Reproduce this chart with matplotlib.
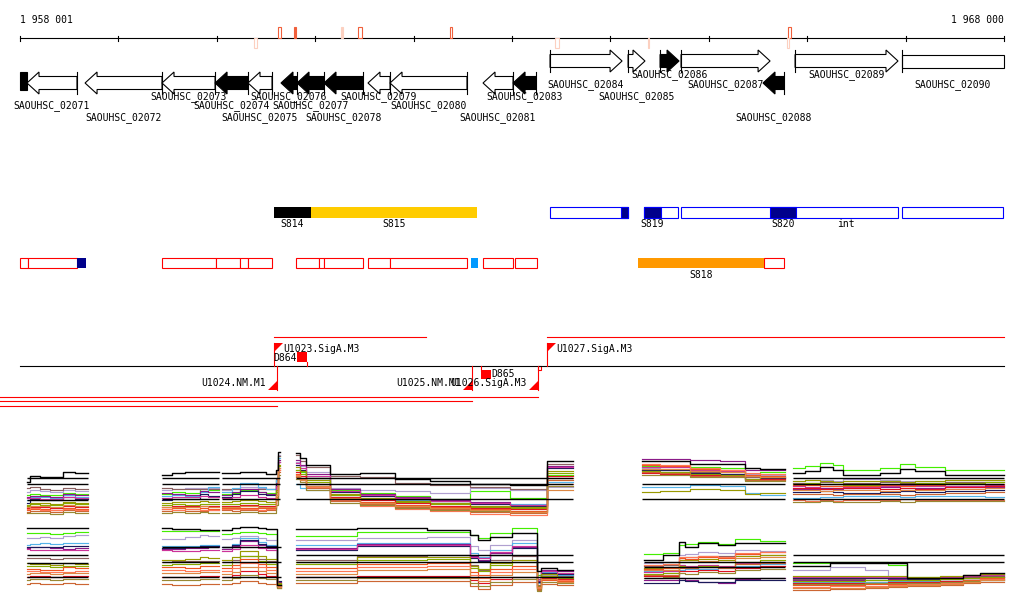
import numpy as np
import matplotlib.pyplot as plt
from matplotlib.patches import Rectangle

# genome window shown on the ruler
view_start, view_end = 1958001, 1968000

# ---- annotated genes (row 1) ----
gene_names = ['SAOUHSC_02071', 'SAOUHSC_02072', 'SAOUHSC_02073', 'SAOUHSC_02074', 'SAOUHSC_02075',
              'SAOUHSC_02076', 'SAOUHSC_02077', 'SAOUHSC_02078', 'SAOUHSC_02079', 'SAOUHSC_02080',
              'SAOUHSC_02081', 'SAOUHSC_02083', 'SAOUHSC_02084', 'SAOUHSC_02085', 'SAOUHSC_02086',
              'SAOUHSC_02087', 'SAOUHSC_02088', 'SAOUHSC_02089', 'SAOUHSC_02090']
gene_start = [1958072, 1958662, 1959444, 1959983, 1960318, 1960653, 1960816, 1961090, 1961537, 1961761,
              1962706, 1963011, 1963387, 1964180, 1964505, 1964718, 1965551, 1965877, 1966964]
gene_end = [1958580, 1959444, 1959983, 1960318, 1960562, 1960816, 1961090, 1961486, 1961761, 1962543,
            1963011, 1963245, 1964119, 1964352, 1964698, 1965623, 1965765, 1966923, 1968000]
gene_strand = [-1, -1, -1, -1, -1, -1, -1, -1, -1, -1, -1, -1, 1, 1, 1, 1, -1, 1, 1]
gene_black = [0, 0, 0, 1, 0, 1, 1, 1, 0, 0, 0, 1, 0, 0, 1, 0, 1, 0, 0]
gene_label_row = [106, 118, 97, 106, 118, 97, 106, 118, 97, 106, 118, 97, 85, 97, 75, 85, 118, 75, 85]
gene_clipped = [0] * 18 + [1]
partial_black = (1958001, 1958072)   # gene cut by the left border

# small marks around the ruler
mark_start = [1960623, 1960785, 1961263, 1961436, 1962371, 1965805,
              1960379, 1963438, 1964383, 1965795]
mark_end = [1960653, 1960806, 1961283, 1961476, 1962391, 1965836,
            1960409, 1963478, 1964393, 1965815]
mark_above = [1, 1, 1, 1, 1, 1, 0, 0, 0, 0]
mark_style = ['red', 'redfill', 'pinkfill', 'red', 'red', 'red', 'pink', 'pink', 'pinkfill', 'pink']

# ---- segment track (S814 ... int) ----
seg_top_start = [1960582, 1960958]
seg_top_end = [1960958, 1962645]
seg_top_color = ['#000000', '#ffcc00']
seg_top_label = ['S814', 'S815']

blue_box_start = [1963387, 1964342, 1964718, 1966964]
blue_box_end = [1964180, 1964688, 1966923, 1967990]
navy_start = [1964108, 1964342, 1965623]
navy_end = [1964180, 1964515, 1965887]
blue_labels = ['S819', 'S820', 'int']
blue_label_pos = [1964428, 1965755, 1966395]

red_box_start = [1958001, 1958082, 1959444, 1959993, 1960236, 1960318, 1960806, 1961039, 1961090,
                 1961537, 1961761, 1962706, 1963032, 1965561]
red_box_end = [1958082, 1958580, 1959993, 1960236, 1960318, 1960562, 1961039, 1961090, 1961486,
               1961761, 1962543, 1963011, 1963255, 1965765]
fill_start = [1958580, 1962584, 1964281]
fill_end = [1958672, 1962655, 1965561]
fill_color = ['#00008b', '#0099ff', '#ff9900']
orange_label = ('S818', 1964921)

# ---- transcription units / promoters ----
fwd_names = ['U1023.SigA.M3', 'U1027.SigA.M3']
fwd_pos = [1960582, 1963356]
rev_names = ['U1024.NM.M1', 'U1025.NM.M1', 'U1026.SigA.M3']
rev_pos = [1960613, 1962594, 1963265]
rev_label_end = [1960500, 1962482, 1963153]
tu_fwd_start = [1960582, 1963356]
tu_fwd_end = [1962127, 1968000]
tu_rev_end = [1963265, 1962594, 1960613]
term_names = ['D864', 'D865']
term_start = [1960816, 1962686]
term_end = [1960917, 1962787]

# ---- expression profiles (pixel rows) ----
trace_colors = ['#000000', '#44ee00', '#b0a0d0', '#8b6060', '#56b4e9', '#8b1a89', '#1a1a5a', '#cc3399',
                '#999900', '#88aa00', '#dd1122', '#ee5522', '#cc6633', '#ff7755', '#998833', '#dd8844']

t1_bp = [1958072, 1958103, 1958204, 1958306, 1958438, 1958560, 1958692]
t1_refs = [478, 484, 500]
t1_series = [[482, 476, 477, 477, 472, 473], [495, 494, 495, 495, 493, 494], [492, 490, 491, 492, 490, 491],
             [488, 487, 489, 490, 488, 489], [500, 497, 497, 498, 495, 497], [497, 496, 496, 497, 494, 495],
             [503, 499, 500, 500, 497, 499], [498, 498, 499, 499, 497, 498], [506, 503, 503, 504, 502, 503],
             [505, 504, 505, 505, 503, 504], [508, 507, 507, 508, 506, 507], [510, 509, 509, 510, 508, 509],
             [512, 511, 511, 512, 510, 511], [509, 508, 510, 510, 509, 510], [513, 513, 513, 514, 512, 513],
             [507, 506, 506, 507, 505, 506]]

t2_bp = [1959444, 1959546, 1959678, 1959830, 1959911, 1960023]
t2_refs = [478, 484, 499]
t2_series = [[475, 473, 472, 472, 472], [494, 492, 493, 489, 490], [490, 489, 488, 488, 488],
             [488, 489, 489, 489, 489], [496, 495, 496, 492, 487], [493, 494, 495, 491, 492],
             [500, 499, 499, 494, 496], [498, 497, 497, 496, 497], [503, 502, 502, 501, 502],
             [505, 504, 505, 504, 504], [507, 506, 506, 506, 506], [509, 508, 509, 508, 509],
             [511, 510, 511, 511, 510], [509, 510, 509, 510, 510], [513, 512, 513, 512, 513],
             [507, 507, 507, 506, 507]]

t3_bp = [1960054, 1960155, 1960236, 1960419, 1960501, 1960603, 1960623, 1960643]
t3_refs = [478, 484, 499]
t3_series = [[473, 473, 472, 472, 474, 470, 452], [494, 493, 490, 492, 493, 480, 456],
             [490, 489, 487, 488, 489, 478, 455], [489, 489, 489, 489, 489, 479, 456],
             [492, 488, 483, 487, 489, 480, 458], [495, 492, 489, 492, 494, 483, 460],
             [497, 494, 491, 494, 495, 484, 462], [498, 497, 495, 497, 498, 486, 462],
             [502, 501, 500, 501, 502, 490, 465], [504, 504, 503, 504, 504, 492, 466],
             [506, 506, 505, 506, 506, 495, 468], [508, 508, 508, 508, 508, 497, 470],
             [510, 511, 510, 511, 510, 500, 472], [509, 509, 509, 510, 509, 498, 470],
             [513, 513, 512, 513, 513, 505, 475], [507, 507, 506, 507, 507, 495, 468]]

t4_bp = [1960806, 1960846, 1960907, 1961151, 1961456, 1961812, 1962167, 1962574, 1962980, 1963356, 1963620]
t4_refs = [478, 484, 499]
t4_series = [[453, 458, 465, 474, 473, 479, 481, 484, 485, 461],
             [470, 472, 478, 490, 493, 496, 499, 491, 498, 475],
             [462, 466, 472, 488, 490, 491, 493, 488, 490, 487],
             [455, 461, 467, 476, 477, 483, 485, 487, 489, 464],
             [484, 488, 490, 497, 499, 500, 501, 503, 504, 482],
             [460, 465, 474, 489, 494, 497, 500, 502, 505, 466],
             [465, 470, 478, 492, 496, 499, 501, 504, 506, 468],
             [463, 468, 476, 491, 495, 498, 501, 503, 505, 467],
             [467, 471, 480, 494, 498, 501, 503, 506, 507, 471],
             [470, 474, 482, 495, 499, 502, 504, 507, 508, 473],
             [472, 476, 484, 497, 500, 503, 506, 508, 509, 476],
             [474, 478, 486, 499, 502, 505, 507, 509, 511, 478],
             [477, 480, 488, 501, 504, 507, 509, 512, 513, 480],
             [475, 479, 487, 500, 506, 509, 511, 514, 515, 484],
             [479, 482, 490, 503, 505, 508, 510, 511, 512, 486],
             [476, 480, 486, 498, 503, 506, 508, 510, 512, 490]]

t5_bp = [1964322, 1964505, 1964809, 1965114, 1965368, 1965521, 1965775]
t5_refs = [484, 499]
t5_series = [[461, 461, 464, 464, 468, 469], [466, 466, 467, 468, 474, 472], [468, 467, 470, 470, 474, 475],
             [470, 470, 472, 472, 477, 478], [487, 487, 485, 486, 493, 495], [459, 459, 460, 461, 470, 470],
             [470, 470, 473, 474, 479, 478], [467, 467, 470, 471, 476, 477], [492, 491, 489, 490, 494, 493],
             [471, 472, 474, 475, 479, 477], [473, 474, 475, 476, 480, 479], [465, 466, 469, 470, 475, 476],
             [472, 473, 476, 476, 480, 480], [464, 465, 468, 470, 473, 474], [475, 475, 477, 477, 481, 481],
             [469, 469, 471, 472, 476, 477]]

t6_bp = [1965856, 1965978, 1966131, 1966263, 1966364, 1966740, 1966944, 1967096, 1967401, 1967807, 1968000]
t6_refs = [478, 484, 499]
t6_series = [[473, 471, 467, 470, 475, 473, 469, 471, 475, 475],
             [468, 466, 463, 465, 470, 468, 464, 467, 470, 470],
             [481, 480, 480, 481, 479, 480, 481, 481, 480, 480],
             [483, 483, 482, 482, 483, 482, 483, 483, 482, 482],
             [498, 498, 497, 497, 496, 496, 497, 496, 496, 497],
             [489, 489, 488, 489, 488, 487, 488, 488, 487, 487],
             [492, 492, 491, 492, 493, 492, 491, 492, 491, 490],
             [486, 487, 486, 486, 487, 486, 485, 486, 486, 485],
             [481, 480, 481, 482, 481, 481, 482, 481, 480, 480],
             [484, 483, 484, 484, 485, 484, 484, 483, 483, 482],
             [488, 488, 489, 488, 488, 489, 488, 489, 487, 486],
             [485, 485, 486, 486, 486, 485, 486, 485, 484, 484],
             [494, 494, 494, 495, 494, 494, 495, 494, 493, 492],
             [500, 501, 500, 501, 500, 500, 499, 500, 500, 500],
             [502, 502, 501, 502, 502, 501, 502, 501, 501, 501],
             [490, 490, 491, 490, 490, 491, 490, 490, 489, 488]]

b1_bp = t1_bp
b1_refs = [555, 563, 577]
b1_series = [[528, 528, 528, 528, 528, 528], [533, 533, 533, 534, 533, 532], [538, 538, 537, 538, 536, 535],
             [558, 558, 558, 559, 558, 558], [545, 544, 543, 544, 543, 543], [548, 547, 547, 548, 549, 548],
             [547, 547, 547, 547, 546, 546], [549, 550, 550, 550, 550, 550], [563, 564, 564, 565, 563, 564],
             [566, 566, 566, 567, 566, 566], [577, 576, 576, 577, 576, 576], [569, 569, 570, 570, 567, 568],
             [584, 583, 584, 584, 583, 584], [571, 571, 572, 572, 572, 571], [580, 579, 579, 580, 579, 579],
             [574, 573, 573, 574, 573, 573]]

b2_bp = t2_bp
b2_refs = [547, 562, 577]
b2_series = [[528, 529, 529, 530, 530], [531, 531, 531, 531, 531], [539, 539, 537, 535, 536],
             [562, 561, 561, 561, 561], [546, 546, 546, 545, 545], [549, 549, 548, 548, 547],
             [548, 548, 547, 546, 546], [550, 551, 551, 550, 550], [560, 560, 559, 557, 558],
             [565, 564, 564, 563, 563], [577, 577, 577, 576, 576], [567, 567, 568, 566, 566],
             [584, 585, 585, 584, 584], [570, 570, 571, 570, 570], [580, 580, 580, 579, 579],
             [573, 573, 573, 572, 572]]

b3_bp = [1960054, 1960155, 1960236, 1960419, 1960501, 1960613, 1960653]
b3_refs = [547, 562, 577]
b3_series = [[530, 528, 527, 528, 529, 585], [534, 533, 532, 533, 534, 586], [539, 538, 536, 538, 540, 586],
             [562, 560, 556, 559, 561, 585], [547, 544, 538, 542, 545, 583], [549, 546, 541, 545, 548, 582],
             [547, 545, 540, 544, 546, 581], [551, 549, 545, 548, 550, 584], [560, 557, 551, 556, 559, 583],
             [565, 562, 556, 561, 564, 584], [577, 575, 571, 574, 576, 586], [568, 565, 559, 564, 567, 587],
             [584, 583, 581, 583, 584, 588], [571, 568, 563, 567, 570, 587], [580, 578, 575, 578, 579, 588],
             [574, 572, 567, 571, 573, 586]]

b4_bp = [1960806, 1961425, 1962137, 1962574, 1962655, 1962777, 1963001, 1963255, 1963295, 1963458, 1963620]
b4_refs = [555, 562, 577]
b4_series = [[529, 528, 530, 535, 540, 537, 533, 571, 568, 570],
             [536, 532, 532, 535, 538, 533, 528, 575, 572, 573],
             [540, 538, 537, 546, 550, 545, 540, 580, 575, 574],
             [560, 556, 555, 565, 570, 560, 556, 585, 574, 576],
             [545, 543, 543, 553, 557, 550, 543, 583, 572, 575],
             [548, 544, 544, 556, 560, 553, 547, 581, 570, 571],
             [550, 546, 546, 558, 561, 555, 548, 582, 573, 574],
             [549, 545, 545, 557, 558, 552, 546, 579, 571, 573],
             [562, 557, 557, 566, 569, 563, 560, 586, 574, 577],
             [564, 560, 559, 568, 571, 565, 562, 587, 576, 578],
             [577, 576, 576, 580, 583, 579, 577, 588, 578, 579],
             [568, 564, 563, 572, 575, 569, 566, 589, 580, 581],
             [583, 581, 581, 586, 589, 585, 582, 590, 584, 585],
             [571, 567, 566, 575, 578, 572, 569, 587, 577, 580],
             [580, 578, 578, 583, 586, 582, 579, 591, 582, 583],
             [574, 570, 569, 578, 581, 575, 572, 588, 579, 582]]

b5_bp = [1964342, 1964535, 1964698, 1964759, 1964891, 1965094, 1965267, 1965521, 1965775]
b5_refs = [562, 567, 578]
b5_series = [[560, 555, 542, 547, 543, 545, 543, 543], [554, 553, 545, 544, 542, 544, 539, 541],
             [563, 562, 555, 554, 552, 553, 550, 551], [566, 565, 558, 557, 556, 556, 554, 555],
             [571, 571, 570, 569, 569, 568, 566, 564], [580, 580, 578, 580, 582, 583, 579, 578],
             [583, 583, 580, 581, 582, 582, 580, 580], [572, 571, 565, 566, 565, 566, 563, 562],
             [568, 568, 560, 560, 559, 560, 556, 555], [574, 573, 566, 567, 566, 567, 562, 560],
             [576, 576, 571, 571, 570, 571, 568, 566], [569, 568, 558, 559, 557, 558, 554, 552],
             [575, 575, 568, 568, 567, 568, 564, 563], [565, 564, 557, 557, 556, 557, 553, 552],
             [578, 577, 573, 574, 572, 573, 570, 569], [570, 570, 562, 562, 561, 562, 558, 557]]

b6_bp = [1965856, 1966232, 1966588, 1966822, 1967015, 1967350, 1967584, 1967757, 1968000]
b6_refs = [555, 562]
b6_series = [[566, 563, 563, 563, 578, 578, 575, 573], [563, 562, 562, 565, 577, 577, 576, 574],
             [570, 567, 570, 577, 578, 578, 577, 575], [579, 579, 578, 578, 579, 578, 577, 576],
             [582, 582, 582, 581, 581, 581, 580, 580], [580, 580, 580, 579, 580, 579, 578, 577],
             [578, 578, 578, 578, 579, 579, 578, 577], [577, 577, 577, 577, 578, 577, 576, 575],
             [576, 576, 576, 576, 577, 576, 575, 574], [581, 581, 580, 580, 580, 579, 578, 577],
             [583, 583, 583, 582, 582, 581, 580, 579], [585, 585, 584, 584, 583, 582, 580, 578],
             [590, 589, 588, 587, 586, 585, 583, 582], [587, 586, 586, 585, 584, 583, 581, 579],
             [584, 584, 583, 583, 583, 582, 581, 580], [588, 588, 587, 586, 585, 584, 582, 580]]

FONT = dict(family='DejaVu Sans Mono', fontsize=7)
RED = '#ff0000'


def draw_gene(ax, start, end, strand, black, yc, clipped, bp_px):
    hl = 12 * bp_px
    bh, hh = 6.5, 11
    face = 'black' if black else 'white'
    if strand < 0:
        tail, tip = end, start
    else:
        tail, tip = start, end
    d = 1 if strand > 0 else -1
    if clipped:
        xs = [tail, tip, tip, tail]
        ys = [yc - bh, yc - bh, yc + bh, yc + bh]
    else:
        neck = tip - d * min(hl, abs(tip - tail))
        xs = [tail, neck, neck, tip, neck, neck, tail]
        ys = [yc - bh, yc - bh, yc - hh, yc, yc + hh, yc + bh, yc + bh]
    ax.fill(xs, ys, facecolor=face, edgecolor='black', lw=0.8, zorder=3)
    ax.plot([tail, tail], [yc - hh, yc + hh], color='black', lw=0.8, zorder=3)


def box(ax, x0, x1, y0, y1, **kw):
    ax.add_patch(Rectangle((x0, y0), x1 - x0, y1 - y0, **kw))


def draw_panel(ax, bp, refs, series):
    bp = np.asarray(bp)
    for i in list(range(1, len(series))) + [0]:
        vals = series[i] + [series[i][-1]]
        ax.plot(bp, vals, drawstyle='steps-post', color=trace_colors[i],
                lw=1.0 if i == 0 else 0.85, zorder=4 if i == 0 else 2)
    ax.hlines(refs, bp[0], bp[-1], color='black', lw=1.0, zorder=5)


fig = plt.figure(figsize=(10.24, 6.11), dpi=100)
ax = fig.add_axes([0, 0, 1, 1])
bp_px = (view_end - view_start) / 984
ax.set_xlim(view_start - 20 * bp_px, view_end + 20 * bp_px)
ax.set_ylim(611, 0)
ax.axis('off')

# ruler
ax.plot([view_start, view_end], [38, 38], color='black', lw=0.8)
for t in np.arange(view_start, view_end + 2, 1000):
    ax.plot([t, t], [36, 41], color='black', lw=0.8)
ax.text(view_start, 20, '1 958 001', ha='left', va='center', **FONT)
ax.text(view_end, 20, '1 968 000', ha='right', va='center', **FONT)

for s, e, up, st in zip(mark_start, mark_end, mark_above, mark_style):
    y0, y1 = (27, 38) if up else (38, 48)
    col = '#f0603c' if st.startswith('red') else '#fcd0c0'
    face = col if st.endswith('fill') else 'white'
    box(ax, s, e, y0, y1, facecolor=face, edgecolor=col, lw=0.8, zorder=3)

# genes
box(ax, partial_black[0], partial_black[1], 72, 90, facecolor='black', edgecolor='black', lw=0.8)
for name, s, e, strand, blk, ly, cl in zip(gene_names, gene_start, gene_end, gene_strand,
                                           gene_black, gene_label_row, gene_clipped):
    yc = 61 if strand > 0 else 83
    draw_gene(ax, s, e, strand, blk, yc, cl, bp_px)
    ax.text((s + e) / 2, ly, name, ha='center', va='center', zorder=6, **FONT)

# segment tracks
for s, e, c, lab in zip(seg_top_start, seg_top_end, seg_top_color, seg_top_label):
    box(ax, s, e, 207, 218, facecolor=c, edgecolor='none')
    ax.text((s + e) / 2, 224, lab, ha='center', va='center', **FONT)
for s, e in zip(blue_box_start, blue_box_end):
    box(ax, s, e, 207, 218, facecolor='white', edgecolor='#0000ff', lw=0.8)
for s, e in zip(navy_start, navy_end):
    box(ax, s, e, 207, 218, facecolor='#00008b', edgecolor='#0000ff', lw=0.8)
for lab, p in zip(blue_labels, blue_label_pos):
    ax.text(p, 224, lab, ha='center', va='center', **FONT)

for s, e in zip(red_box_start, red_box_end):
    box(ax, s, e, 258, 268, facecolor='white', edgecolor=RED, lw=0.8)
for s, e, c in zip(fill_start, fill_end, fill_color):
    box(ax, s, e, 258, 268, facecolor=c, edgecolor='none')
ax.text(orange_label[1], 275, orange_label[0], ha='center', va='center', **FONT)

# transcription units
ax.plot([view_start, view_end], [366, 366], color='black', lw=0.8)
for s, e in zip(tu_fwd_start, tu_fwd_end):
    ax.plot([s, e], [337, 337], color=RED, lw=0.8)
for e, y in zip(tu_rev_end, [397, 401, 406]):
    ax.plot([ax.get_xlim()[0], e], [y, y], color=RED, lw=0.8)
tri = 9 * bp_px
for name, p in zip(fwd_names, fwd_pos):
    ax.plot([p, p], [366, 343], color=RED, lw=0.8)
    ax.fill([p, p + tri, p], [343, 343, 352], color=RED, lw=0)
    ax.text(p + tri, 349, name, ha='left', va='center', **FONT)
for name, p, le in zip(rev_names, rev_pos, rev_label_end):
    ax.plot([p, p], [366, 390], color=RED, lw=0.8)
    ax.fill([p, p - tri, p], [390, 390, 381], color=RED, lw=0)
    ax.text(le, 383, name, ha='right', va='center', **FONT)

# terminators
ax.text(term_start[0], 358, term_names[0], ha='right', va='center', **FONT)
box(ax, term_start[0], term_end[0], 352, 362, facecolor=RED, edgecolor='none')
ax.plot([term_end[0], term_end[0]], [362, 366], color=RED, lw=0.8)
ax.plot([term_start[1], term_start[1]], [366, 371], color=RED, lw=0.8)
box(ax, term_start[1], term_end[1], 370, 379, facecolor=RED, edgecolor='none')
ax.text(term_end[1], 374, term_names[1], ha='left', va='center', **FONT)
box(ax, rev_pos[2], rev_pos[2] + 3 * bp_px, 366, 370, facecolor='white', edgecolor=RED, lw=0.8)

# expression panels
for bp, refs, series in [(t1_bp, t1_refs, t1_series), (t2_bp, t2_refs, t2_series),
                         (t3_bp, t3_refs, t3_series), (t4_bp, t4_refs, t4_series),
                         (t5_bp, t5_refs, t5_series), (t6_bp, t6_refs, t6_series),
                         (b1_bp, b1_refs, b1_series), (b2_bp, b2_refs, b2_series),
                         (b3_bp, b3_refs, b3_series), (b4_bp, b4_refs, b4_series),
                         (b5_bp, b5_refs, b5_series), (b6_bp, b6_refs, b6_series)]:
    draw_panel(ax, bp, refs, series)

fig.savefig('out.png', dpi=100)
